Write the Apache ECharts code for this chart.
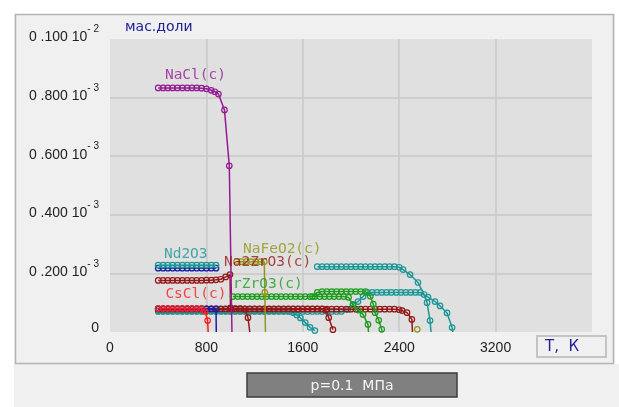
<!DOCTYPE html>
<html>
<head>
<meta charset="utf-8">
<script src="https://cdn.jsdelivr.net/npm/echarts@6/dist/echarts.min.js"></script>
<style>
  html, body { margin: 0; padding: 0; background: #ffffff; }
  #chart { width: 619px; height: 407px; }
</style>
</head>
<body>
<div id="chart"></div>
<script>
// Mass fractions (units of 1e-3) of condensed species vs temperature T, K
const nacl = [[400,.833],[440,.833],[480,.833],[520,.833],[560,.833],[600,.833],[640,.833],[680,.833],[720,.833],[760,.832],[800,.830],[840,.825],[870,.820],[900,.812],[950,.758],[990,.567],[1012,0]];

const nd2o3 = [[400,.228],[440,.228],[480,.228],[520,.228],[560,.228],[600,.228],[640,.228],[680,.228],[720,.228],[760,.228],[800,.228],[840,.228],[880,.228]];

const blueUpper = [[400,.218],[440,.218],[480,.218],[520,.218],[560,.218],[600,.218],[640,.218],[680,.218],[720,.218],[760,.218],[800,.218],[840,.218],[880,.218]];

const blueLower = [[400,.079],[440,.079],[480,.079],[520,.079],[560,.079],[600,.079],[640,.079],[680,.079],[720,.079],[760,.079],[800,.079],[840,.079],[880,.079],[882,0]];

const cscl = [[400,.080],[440,.080],[480,.080],[520,.080],[560,.080],[600,.080],[640,.080],[680,.080],[720,.080],[760,.080],[790,.070],[810,.039],[815,0]];

const na2zro3 = [[400,.176],[440,.176],[480,.176],[520,.176],[560,.176],[600,.176],[640,.176],[680,.176],[720,.176],[760,.176],[800,.177],[840,.177],[880,.178],[920,.180],[960,.188],[996,.196],[1000,.082],[1040,.080],[1080,.080],[1120,.078],[1145,.049],[1160,0]];

const darkRedB = [[400,.079],[440,.079],[480,.079],[520,.079],[560,.079],[600,.079],[640,.079],[680,.079],[720,.079],[760,.079],[800,.079],[840,.079],[880,.079],[920,.079],[960,.079],[1000,.079],[1040,.079],[1080,.079],[1120,.079],[1160,.079],[1200,.079],[1240,.079],[1280,.079],[1320,.079],[1360,.079],[1400,.079],[1440,.079],[1480,.079],[1520,.079],[1560,.079],[1600,.079],[1640,.079],[1680,.079],[1720,.079],[1760,.079],[1790,.075],[1815,.049],[1850,.008]];

const darkRedC = [[400,.078],[440,.078],[480,.078],[520,.078],[560,.078],[600,.078],[640,.078],[680,.078],[720,.078],[760,.078],[800,.078],[840,.078],[880,.078],[920,.078],[960,.078],[1000,.078],[1040,.078],[1080,.078],[1120,.078],[1160,.078],[1200,.078],[1240,.078],[1280,.078],[1320,.078],[1360,.078],[1400,.078],[1440,.078],[1480,.078],[1520,.078],[1560,.078],[1600,.078],[1640,.078],[1680,.078],[1720,.078],[1760,.078],[1800,.078],[1840,.078],[1880,.078],[1920,.078],[1960,.078],[2000,.078],[2040,.078],[2080,.078],[2120,.078],[2160,.078],[2200,.078],[2240,.078],[2280,.078],[2320,.078],[2360,.078],[2400,.076],[2425,.073],[2465,.066],[2505,.043],[2510,0]];

const tealLowA = [[400,.072],[440,.072],[480,.072],[520,.072],[560,.072],[600,.072],[640,.072],[680,.072],[720,.072],[760,.072],[800,.072],[840,.072],[880,.072],[920,.072],[960,.072],[1000,.072],[1040,.072],[1080,.072],[1120,.072],[1160,.072],[1200,.072],[1240,.072],[1280,.072],[1320,.072],[1360,.072],[1400,.072],[1440,.072],[1480,.072],[1520,.066],[1550,.058],[1580,.048],[1620,.032],[1660,.016],[1700,.005]];

const tealLowB = [[400,.070],[440,.070],[480,.070],[520,.070],[560,.070],[600,.070],[640,.070],[680,.070],[720,.070],[760,.070],[800,.070],[840,.070],[880,.070],[920,.070],[960,.070],[1000,.070],[1040,.070],[1080,.070],[1120,.070],[1160,.070],[1200,.070],[1240,.070],[1280,.070],[1320,.070],[1360,.070],[1400,.070],[1440,.070],[1480,.070],[1520,.070],[1560,.070],[1600,.070],[1640,.070],[1680,.070],[1720,.070],[1760,.070],[1800,.070],[1840,.070],[1880,.070],[1920,.070],[1975,.077],[2017,.094],[2058,.104],[2100,.121],[2135,.135],[2175,.135],[2215,.135],[2255,.135],[2295,.135],[2335,.135],[2375,.135],[2415,.135],[2455,.135],[2495,.135],[2535,.135],[2575,.135],[2639,.119],[2697,.104],[2739,.089],[2797,.065],[2839,.015],[2845,0]];

const tealUp = [[1720,.223],[1760,.223],[1800,.223],[1840,.223],[1880,.223],[1920,.223],[1960,.223],[2000,.223],[2040,.223],[2080,.223],[2120,.223],[2160,.223],[2200,.223],[2240,.223],[2280,.223],[2320,.223],[2360,.223],[2400,.221],[2432,.213],[2490,.196],[2556,.169],[2606,.128],[2631,.100],[2656,.039],[2664,0]];

const greenA = [[1020,.121],[1060,.121],[1100,.121],[1140,.121],[1180,.121],[1220,.121],[1260,.121],[1300,.121],[1340,.121],[1380,.121],[1420,.121],[1460,.121],[1500,.121],[1540,.121],[1580,.121],[1620,.121],[1660,.121],[1700,.121],[1740,.121],[1780,.121],[1820,.121],[1860,.121],[1900,.121],[1940,.121],[1980,.118],[2017,.092],[2060,.075],[2100,.060],[2141,.026],[2145,0]];

const greenB = [[1680,.121],[1720,.135],[1760,.138],[1800,.138],[1840,.138],[1880,.138],[1920,.138],[1960,.138],[2000,.138],[2040,.138],[2080,.138],[2120,.138],[2160,.122],[2185,.095],[2200,.066],[2230,.040],[2255,.009],[2258,0]];

const nafeo2 = [[1050,.240],[1090,.240],[1130,.240],[1170,.240],[1210,.240],[1250,.240],[1280,.240],[1285,.135],[1290,0]];

const nafeo2High = [[2550,.009]];

// Axis tick labels
const xTickLabels = ['0', '800', '1600', '2400', '3200', ''];
const yTickMantissa = ['0', '0 .200', '0 .400', '0 .600', '0 .800', '0 .100'];
const yTickExponent = ['', '3', '3', '3', '3', '2'];

// Species labels: text and anchor (T, mass fraction) of their left edge
const speciesNames = ['NaCl(c)', 'Nd2O3', 'NaFeO2(c)', 'Na2ZrO3(c)', 'rZrO3(c)', 'CsCl(c)'];
const speciesAnchors = [[456, .877], [448, .264], [1104, .284], [946, .237], [1021, .162], [460, .128]];

const C = {
  purple: '#931a93', teal: '#1a9696', blue: '#1c1ca6', red: '#ff1c1c',
  darkRed: '#941818', green: '#1e9c1e', olive: '#94941a'
};
const speciesColors = [C.purple, C.teal, C.olive, C.darkRed, C.green, C.red];

const curves = [
  [tealLowB, C.teal], [tealLowA, C.teal],
  [darkRedC, C.darkRed], [darkRedB, C.darkRed], [na2zro3, C.darkRed],
  [blueLower, C.blue], [cscl, C.red],
  [greenA, C.green], [greenB, C.green],
  [tealUp, C.teal], [blueUpper, C.blue], [nd2o3, C.teal],
  [nafeo2, C.olive], [nafeo2High, C.olive],
  [nacl, C.purple]
];

const series = curves.map(([pts, color], i) => ({
  type: 'line',
  data: pts.map(p => p[1] === 0 ? { value: p, symbol: 'none' } : p),
  symbol: 'circle',
  symbolSize: 5.5,
  showSymbol: true,
  itemStyle: { color: 'rgba(0,0,0,0)', borderColor: color, borderWidth: 1.2 },
  lineStyle: { color: color, width: 1.5 },
  silent: true,
  animation: false,
  z: 2 + i * 0.01
}));

series.push({
  type: 'scatter',
  data: speciesAnchors.map((p, i) => ({
    value: p,
    label: { color: speciesColors[i], formatter: speciesNames[i] }
  })),
  symbolSize: 0.1,
  itemStyle: { color: 'rgba(0,0,0,0)' },
  label: {
    show: true, position: [0, 0], align: 'left', verticalAlign: 'middle',
    fontFamily: 'DejaVu Sans Mono', fontSize: 14.5
  },
  silent: true, animation: false, z: 5
});

const tickFont = 'Liberation Sans';
const chart = echarts.init(document.getElementById('chart'), null, { renderer: 'canvas' });
chart.setOption({
  backgroundColor: '#f0f0f0',
  animation: false,
  grid: { left: 110, right: 27, top: 39, bottom: 75, show: true, backgroundColor: '#e0e0e0', borderWidth: 0 },
  xAxis: {
    type: 'value', min: 0, max: 4000, interval: 800,
    axisLine: { show: false }, axisTick: { show: false },
    splitLine: { show: true, showMinLine: false, showMaxLine: false, lineStyle: { color: '#c8c8c8', width: 1.5 } },
    axisLabel: {
      margin: 9, color: '#1e1e1e', fontFamily: tickFont, fontSize: 14,
      formatter: v => xTickLabels[Math.round(v / 800)]
    }
  },
  yAxis: {
    type: 'value', min: 0, max: 1, interval: 0.2,
    axisLine: { show: false }, axisTick: { show: false },
    splitLine: { show: true, showMinLine: false, showMaxLine: false, lineStyle: { color: '#c8c8c8', width: 1.5 } },
    axisLabel: {
      margin: 11, color: '#1e1e1e', fontFamily: tickFont, fontSize: 14,
      padding: [0, 0, 9, 0],
      formatter: v => {
        const i = Math.round(v / 0.2);
        if (!yTickExponent[i]) return '{m|' + yTickMantissa[i] + '}';
        return '{m|' + yTickMantissa[i] + ' 10}{s|- ' + yTickExponent[i] + '}';
      },
      rich: {
        m: { fontFamily: tickFont, fontSize: 14, color: '#1e1e1e', lineHeight: 16, verticalAlign: 'bottom' },
        s: { fontFamily: tickFont, fontSize: 10, color: '#1e1e1e', lineHeight: 20, verticalAlign: 'top' }
      }
    }
  },
  graphic: [
    { type: 'rect', shape: { x: 0, y: 0, width: 619, height: 14 }, style: { fill: '#ffffff' }, silent: true },
    { type: 'rect', shape: { x: 0, y: 0, width: 14, height: 407 }, style: { fill: '#ffffff' }, silent: true },
    { type: 'rect', shape: { x: 615, y: 0, width: 4, height: 364 }, style: { fill: '#ffffff' }, silent: true },
    { type: 'rect', shape: { x: 15.5, y: 14.5, width: 598, height: 349 }, style: { fill: 'none', stroke: '#b4b4b4', lineWidth: 1.5 }, silent: true },
    { type: 'text', x: 125, y: 27, style: { text: 'мас.доли', fill: '#20209a', font: '14px "DejaVu Sans"', textVerticalAlign: 'middle' }, silent: true },
    { type: 'rect', shape: { x: 537, y: 336, width: 69, height: 21 }, style: { fill: '#f0f0f0', stroke: '#c4c4c4', lineWidth: 2 }, silent: true },
    { type: 'text', x: 545, y: 347, style: { text: 'Т,  К', fill: '#20209a', font: '15px "DejaVu Sans"', textVerticalAlign: 'middle' }, silent: true },
    { type: 'rect', shape: { x: 247, y: 373, width: 210, height: 24 }, style: { fill: '#808080', stroke: '#3c3c3c', lineWidth: 1.5 }, silent: true },
    { type: 'text', x: 352, y: 386, style: { text: 'p=0.1  МПа', fill: '#f4f4f4', font: '14px "DejaVu Sans"', textAlign: 'center', textVerticalAlign: 'middle' }, silent: true }
  ],
  series: series
});
</script>
</body>
</html>
